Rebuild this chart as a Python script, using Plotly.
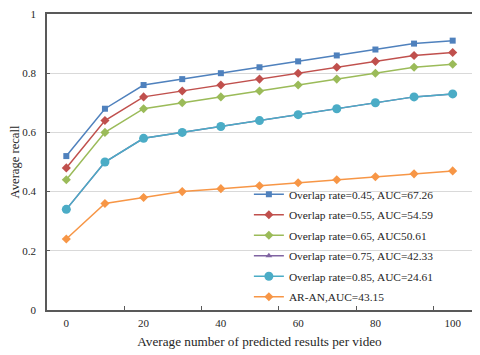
import plotly.graph_objects as go

x_vals = [0, 10, 20, 30, 40, 50, 60, 70, 80, 90, 100]

recall_045 = [0.52, 0.68, 0.76, 0.78, 0.80, 0.82, 0.84, 0.86, 0.88, 0.90, 0.91]
recall_055 = [0.48, 0.64, 0.72, 0.74, 0.76, 0.78, 0.80, 0.82, 0.84, 0.86, 0.87]
recall_065 = [0.44, 0.60, 0.68, 0.70, 0.72, 0.74, 0.76, 0.78, 0.80, 0.82, 0.83]
recall_075 = [0.34, 0.50, 0.58, 0.60, 0.62, 0.64, 0.66, 0.68, 0.70, 0.72, 0.73]
recall_085 = [0.34, 0.50, 0.58, 0.60, 0.62, 0.64, 0.66, 0.68, 0.70, 0.72, 0.73]
recall_aran = [0.24, 0.36, 0.38, 0.40, 0.41, 0.42, 0.43, 0.44, 0.45, 0.46, 0.47]

series = [
    ("Overlap rate=0.45, AUC=67.26", recall_045, "#4F81BD", "square", 6),
    ("Overlap rate=0.55, AUC=54.59", recall_055, "#C0504D", "diamond", 7),
    ("Overlap rate=0.65, AUC50.61", recall_065, "#9BBB59", "diamond", 7),
    ("Overlap rate=0.75, AUC=42.33", recall_075, "#8064A2", "triangle-up", 6),
    ("Overlap rate=0.85, AUC=24.61", recall_085, "#4BACC6", "circle", 9),
    ("AR-AN,AUC=43.15", recall_aran, "#F79646", "diamond", 7),
]

x_label_vals = [0, 20, 40, 60, 80, 100]
x_tick_marks = [-5, 15, 35, 55, 75, 95, 105]
y_tick_vals = [0, 0.2, 0.4, 0.6, 0.8, 1]
y_tick_text = ["0", "0.2", "0.4", "0.6", "0.8", "1"]

FONT = "Liberation Serif"
AXIS = "#595959"

fig = go.Figure()
for i, (name, vals, color, symbol, size) in enumerate(series):
    fig.add_trace(
        go.Scatter(
            x=x_vals,
            y=vals,
            name=name,
            legendgroup=f"g{i}",
            mode="lines+markers",
            line=dict(color=color, width=1.5),
            marker=dict(symbol=symbol, size=size, color=color),
        )
    )

# empty trace on a second x axis, only to carry the between-category tick marks
fig.add_trace(
    go.Scatter(x=[None], y=[None], xaxis="x2", showlegend=False, hoverinfo="skip")
)

# the page body adds an 8px margin, so the figure is 8px smaller than the window
fig.update_layout(
    width=472,
    height=347,
    paper_bgcolor="white",
    plot_bgcolor="white",
    font=dict(family=FONT, size=11, color="#262626"),
    margin=dict(l=39, r=8, t=6, b=45, autoexpand=False),
    showlegend=True,
    legend=dict(
        x=0.475,
        y=0.44,
        xanchor="left",
        yanchor="top",
        bgcolor="rgba(0,0,0,0)",
        font=dict(family=FONT, size=11.4, color="#262626"),
        itemwidth=30,
        tracegroupgap=1.5,
    ),
    xaxis=dict(
        range=[-5, 105],
        tickvals=x_label_vals,
        ticks="",
        showgrid=False,
        zeroline=False,
        showline=True,
        linecolor=AXIS,
        linewidth=1.5,
        mirror=True,
        automargin=True,
        ticklabelstandoff=2,
        title=dict(
            text="Average number of predicted results per video",
            standoff=9,
            font=dict(size=13.2),
        ),
        tickfont=dict(size=11),
    ),
    xaxis2=dict(
        range=[-5, 105],
        overlaying="x",
        side="bottom",
        tickvals=x_tick_marks,
        ticks="inside",
        ticklen=4,
        tickcolor=AXIS,
        showticklabels=False,
        showgrid=False,
        zeroline=False,
        showline=False,
    ),
    yaxis=dict(
        range=[0, 1],
        tickvals=y_tick_vals,
        ticktext=y_tick_text,
        ticks="inside",
        ticklen=3,
        tickcolor=AXIS,
        showgrid=True,
        gridcolor="#D9D9D9",
        gridwidth=1,
        zeroline=False,
        showline=True,
        linecolor=AXIS,
        linewidth=1.5,
        mirror=True,
        automargin=True,
        ticklabelstandoff=7,
        ticklabeloverflow="allow",
        title=dict(text="Average recall", standoff=9, font=dict(size=12.6)),
        tickfont=dict(size=11),
    ),
)

fig.write_html("out.html")
